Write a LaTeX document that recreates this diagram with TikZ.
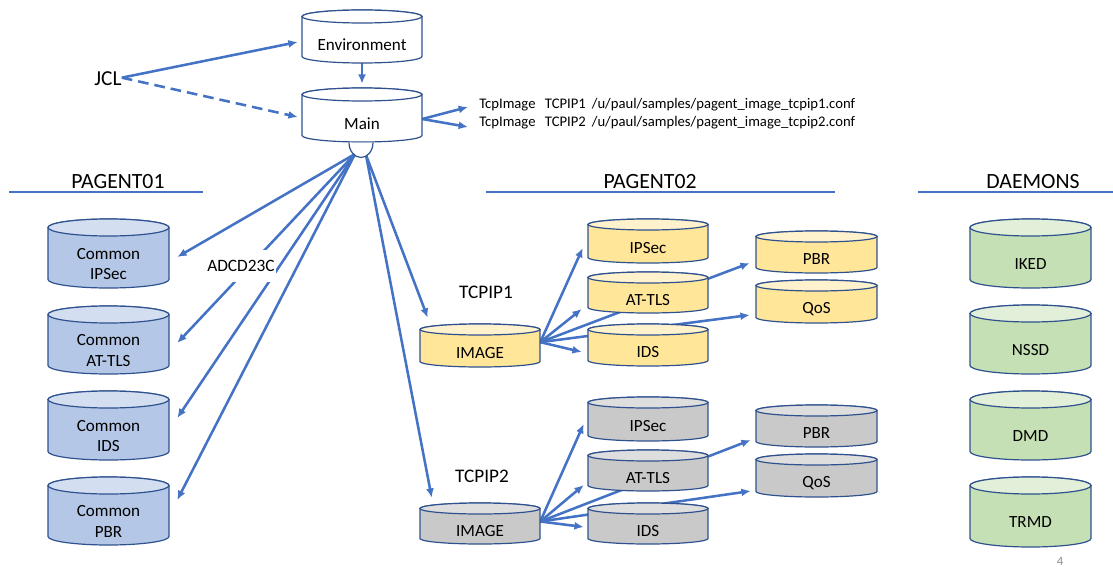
\documentclass[tikz,border=0pt]{standalone}
\usepackage{fontspec}
\setmainfont{Carlito}
\usetikzlibrary{arrows.meta,backgrounds}

\definecolor{linkBlue}{HTML}{4472C4}
\definecolor{cylEdge}{HTML}{2F528F}
\definecolor{whiteBody}{HTML}{FFFFFF}
\definecolor{whiteTop}{HTML}{FFFFFF}
\definecolor{blueBody}{HTML}{B4C7E7}
\definecolor{blueTop}{HTML}{D3DEF1}
\definecolor{yellowBody}{HTML}{FFE699}
\definecolor{yellowTop}{HTML}{FFF2CC}
\definecolor{grayBody}{HTML}{C9C9C9}
\definecolor{grayTop}{HTML}{DEDEDE}
\definecolor{greenBody}{HTML}{C5E0B4}
\definecolor{greenTop}{HTML}{E2F0D9}
\definecolor{pageGray}{HTML}{8C8C8C}

% database cylinder: name, centre x, top y, bottom y, width, end radius, colour set, text
\newcommand\dbcyl[8]{%
  \pgfmathsetmacro\cylL{#2-#5/2}%
  \pgfmathsetmacro\cylR{#2+#5/2}%
  \pgfmathsetmacro\cylT{-(#3)-(#6)}%
  \pgfmathsetmacro\cylB{-(#4)+(#6)}%
  \pgfmathsetmacro\cylM{-((#3)+2*(#6)+(#4))/2-2}%
  \pgfmathsetmacro\cylC{-((#3)+(#4))/2}%
  \path[cylline, fill=#7Body] (\cylL,\cylT) -- (\cylL,\cylB)
     arc[start angle=180,end angle=360,x radius=#5/2,y radius=#6]
     -- (\cylR,\cylT) arc[start angle=0,end angle=180,x radius=#5/2,y radius=#6] -- cycle;
  \path[cylline, fill=#7Top] (#2,\cylT) ellipse[x radius=#5/2,y radius=#6];
  \node[minimum width=#5*0.75pt, minimum height=((#4)-(#3))*0.75pt, inner sep=0pt] (#1) at (#2,\cylC) {};
  \node[cyltext] (#1-t) at (#2,\cylM) {#8};
}

\begin{document}
\begin{tikzpicture}[x=0.75pt, y=0.75pt,
  cylline/.style={draw=cylEdge, line width=0.9pt},
  cyltext/.style={font=\fontsize{12.8}{15.5}\selectfont, align=center, inner sep=0pt},
  arr/.style={draw=linkBlue, line width=1.9pt, -{Latex[length=7pt,width=6pt]}},
  dasharr/.style={arr, dash pattern=on 8pt off 4.5pt},
  rule/.style={draw=linkBlue, line width=2.2pt},
  header/.style={font=\fontsize{16.3}{18}\selectfont, inner sep=0pt},
  group/.style={font=\fontsize{14.4}{16}\selectfont, inner sep=0pt},
  conf/.style={font=\fontsize{11}{12}\selectfont, inner sep=0pt, anchor=west}]

\useasboundingbox (0,0) rectangle (1113,-567);

% top: job control, environment and main configuration
\node[font=\fontsize{16}{18}\selectfont, inner sep=0pt] (jcl) at (108,-79) {JCL};
\dbcyl{env}{362}{10}{63}{120}{6.5}{white}{Environment}
\dbcyl{main}{362}{88}{142}{120}{6.5}{white}{Main}

\node[conf] (conf1) at (479,-105) {TcpImage\hspace{7pt}TCPIP1\hspace{4.5pt}/u/paul/samples/pagent\_image\_tcpip1.conf};
\node[conf] (conf2) at (479,-123) {TcpImage\hspace{7pt}TCPIP2\hspace{4.5pt}/u/paul/samples/pagent\_image\_tcpip2.conf};

% section headers
\node[header] (hdr1) at (118,-182) {PAGENT01};
\node[header] (hdr2) at (650,-182) {PAGENT02};
\node[header] (hdr3) at (1033,-182) {DAEMONS};
\draw[rule] (9,-192) -- (203,-192);
\draw[rule] (486,-192) -- (835,-192);
\draw[rule] (918,-192) -- (1113,-192);

% PAGENT01 common policies
\dbcyl{cIPSec}{108.5}{219}{288}{121}{8.5}{blue}{Common\\IPSec}
\dbcyl{cATTLS}{108.5}{306}{374}{121}{8.5}{blue}{Common\\AT-TLS}
\dbcyl{cIDS}{108.5}{391}{460}{121}{8.5}{blue}{Common\\IDS}
\dbcyl{cPBR}{108.5}{477}{545}{121}{8.5}{blue}{Common\\PBR}

% PAGENT02, stack TCPIP1
\node[group] (lbl1) at (486,-292) {TCPIP1};
\dbcyl{img1}{480}{324}{367}{120}{5.5}{yellow}{IMAGE}
\dbcyl{ips1}{648}{219}{263}{120}{5.5}{yellow}{IPSec}
\dbcyl{tls1}{648}{272}{313}{120}{5.5}{yellow}{AT-TLS}
\dbcyl{ids1}{648}{324}{366}{120}{5.5}{yellow}{IDS}
\dbcyl{pbr1}{816.5}{231}{273}{121}{5.5}{yellow}{PBR}
\dbcyl{qos1}{816.5}{280}{323}{121}{5.5}{yellow}{QoS}

% PAGENT02, stack TCPIP2
\node[group] (lbl2) at (482,-476) {TCPIP2};
\dbcyl{img2}{480}{503}{544}{120}{5.5}{gray}{IMAGE}
\dbcyl{ips2}{648}{397}{441}{120}{5.5}{gray}{IPSec}
\dbcyl{tls2}{648}{450}{491}{120}{5.5}{gray}{AT-TLS}
\dbcyl{ids2}{648}{503}{544}{120}{5.5}{gray}{IDS}
\dbcyl{pbr2}{816.5}{405}{447}{121}{5.5}{gray}{PBR}
\dbcyl{qos2}{816.5}{454}{497}{121}{5.5}{gray}{QoS}

% daemons
\dbcyl{iked}{1030.5}{219}{288}{121}{8.5}{green}{IKED}
\dbcyl{nssd}{1030.5}{305}{374}{121}{8.5}{green}{NSSD}
\dbcyl{dmd}{1030.5}{391}{460}{121}{8.5}{green}{DMD}
\dbcyl{trmd}{1030.5}{477}{547}{121}{8.5}{green}{TRMD}

% fan-out hub below Main
\coordinate (hubL) at (355,-154);
\coordinate (hubR) at (366,-155);
\fill[white] (349,-142.5) arc[start angle=180,end angle=360,x radius=12,y radius=15] -- cycle;
\draw[cylline] (349,-142.5) arc[start angle=180,end angle=360,x radius=12,y radius=15];

\node[fill=white, inner xsep=1pt, inner ysep=0pt, minimum height=24pt, font=\fontsize{13}{15}\selectfont] (adcd) at (241,-266) {ADCD23C};

\node[font=\fontsize{9.5}{11}\selectfont, text=pageGray, inner sep=0pt] (pg) at (1060,-561) {4};

\begin{pgfonlayer}{background}
  \draw[arr] ([yshift=1]jcl.east) -- ([shift={(-4,-5.5)}]env.west);
  \draw[dasharr] ([yshift=1]jcl.east) -- ([shift={(-4,-2)}]main.west);
  \draw[arr] (env.south) -- ([yshift=3]main.north);
  \draw[arr] ([yshift=-3]main.east) -- ([shift={(-11,-2)}]conf1.west);
  \draw[arr] ([yshift=-3]main.east) -- ([shift={(-11,-4)}]conf2.west);

  \draw[arr] (hubL) -- ([shift={(8,-3.5)}]cIPSec.east);
  \draw[arr] (hubL) -- ([shift={(8,-3)}]cATTLS.east);
  \draw[arr] (hubL) -- ([shift={(8,7.5)}]cIDS.east);
  \draw[arr] (hubL) -- ([shift={(8,11)}]cPBR.east);
  \draw[arr] (hubR) -- ([shift={(8,6)}]img1.north west);
  \draw[arr] (hubR) -- ([shift={(12,5)}]img2.north west);

  \draw[arr] ([yshift=2.5]img1.east) -- ([shift={(-5,-7)}]ips1.west);
  \draw[arr] ([yshift=2.5]img1.east) -- ([shift={(-6,-16.5)}]tls1.west);
  \draw[arr] ([yshift=2.5]img1.east) -- ([shift={(-6,-7)}]ids1.west);
  \draw[arr] ([yshift=2.5]img1.east) -- ([shift={(-6,-11)}]pbr1.west);
  \draw[arr] ([yshift=2.5]img1.east) -- ([shift={(-6,-13.5)}]qos1.west);

  \draw[arr] ([yshift=1.5]img2.east) -- ([shift={(-4,-5)}]ips2.west);
  \draw[arr] ([yshift=1.5]img2.east) -- ([shift={(-4,-14.5)}]tls2.west);
  \draw[arr] ([yshift=1.5]img2.east) -- ([shift={(-4,-3.5)}]ids2.west);
  \draw[arr] ([yshift=1.5]img2.east) -- ([shift={(-5,-14)}]pbr2.west);
  \draw[arr] ([yshift=1.5]img2.east) -- ([shift={(-5,-15.5)}]qos2.west);
\end{pgfonlayer}
\end{tikzpicture}
\end{document}
